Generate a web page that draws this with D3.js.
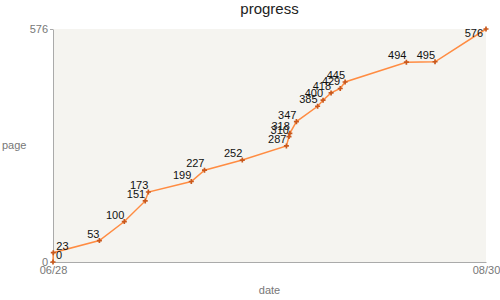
<!DOCTYPE html>
<html>
<head>
<meta charset="utf-8">
<script src="https://cdn.jsdelivr.net/npm/d3@7"></script>
<style>
  body { margin: 0; background: #fff; }
  svg { font-family: "Liberation Sans", Arial, sans-serif; }
  .axis path, .axis line { stroke: #aaa; }
  .axis text { fill: #777; font-size: 11px; }
</style>
</head>
<body>
<div id="chart"></div>
<script>
// reading log: when, and how far
const dates = ["2013-06-28 00:00", "2013-06-28 01:00", "2013-07-04 18:00", "2013-07-08 09:00",
    "2013-07-11 10:00", "2013-07-11 21:00", "2013-07-18 03:00", "2013-07-20 01:00",
    "2013-07-25 13:00", "2013-07-31 23:00", "2013-08-01 08:00", "2013-08-01 11:00",
    "2013-08-02 10:00", "2013-08-05 12:00", "2013-08-06 07:00", "2013-08-07 11:00",
    "2013-08-08 19:00", "2013-08-09 12:00", "2013-08-18 10:00", "2013-08-22 14:00",
    "2013-08-30 00:00"];
const pages = [0, 23, 53, 100, 151, 173, 199, 227, 252, 287, 310, 318, 347, 385, 400, 418, 429, 445, 494, 495, 576];
const xTicks = ["2013-06-28 00:00", "2013-08-30 00:00"];
const yTicks = [0, 576];

const width = 500, height = 300;
const margin = {top: 29, right: 14, bottom: 38, left: 53};

const parse = d3.timeParse("%Y-%m-%d %H:%M");
const data = dates.map((d, i) => ({date: parse(d), page: pages[i]}));

const svg = d3.select("#chart").append("svg")
    .attr("width", width)
    .attr("height", height);

const x = d3.scaleTime()
    .domain([parse(xTicks[0]), parse(xTicks[1])])
    .range([margin.left, width - margin.right]);

const y = d3.scaleLinear()
    .domain([0, 576])
    .range([height - margin.bottom, margin.top]);

// plot background
svg.append("rect")
    .attr("x", margin.left)
    .attr("y", margin.top)
    .attr("width", width - margin.left - margin.right)
    .attr("height", height - margin.top - margin.bottom)
    .attr("fill", "#f5f4f0");

svg.append("text")
    .attr("x", (margin.left + width - margin.right) / 2)
    .attr("y", 14)
    .attr("text-anchor", "middle")
    .attr("fill", "#222")
    .attr("font-size", 15)
    .text("progress");

// axes
let xAxis = svg.append("g")
    .attr("class", "axis")
    .attr("transform", "translate(0," + (height - margin.bottom) + ")")
    .call(d3.axisBottom(x)
        .tickValues(xTicks.map(parse))
        .tickFormat(d3.timeFormat("%m/%d"))
        .tickSize(0)
        .tickSizeOuter(0)
        .tickPadding(4));

let yAxis = svg.append("g")
    .attr("class", "axis")
    .attr("transform", "translate(" + margin.left + ",0)")
    .call(d3.axisLeft(y)
        .tickValues(yTicks)
        .tickSize(3)
        .tickSizeOuter(0)
        .tickPadding(2));

svg.append("text")
    .attr("x", 2)
    .attr("y", 149)
    .attr("fill", "#777")
    .attr("font-size", 11)
    .text("page");

svg.append("text")
    .attr("x", (margin.left + width - margin.right) / 2)
    .attr("y", 294)
    .attr("text-anchor", "middle")
    .attr("fill", "#777")
    .attr("font-size", 11)
    .text("date");

// the line
const line = d3.line()
    .x(d => x(d.date))
    .y(d => y(d.page));

svg.append("path")
    .datum(data)
    .attr("d", line)
    .attr("fill", "none")
    .attr("stroke", "#ff8c42")
    .attr("stroke-width", 1.5);

svg.selectAll(".dot")
    .data(data)
    .enter().append("path")
    .attr("class", "dot")
    .attr("d", d3.symbol().type(d3.symbolCross).size(14))
    .attr("transform", d => "translate(" + x(d.date) + "," + y(d.page) + ")")
    .attr("fill", "#c9581c");

// value labels, kept inside the plot area
let right = width - margin.right;
svg.selectAll(".lbl")
    .data(data)
    .enter().append("text")
    .attr("class", "lbl")
    .attr("font-size", 11)
    .attr("fill", "#111")
    .attr("x", d => {
        let px = x(d.date);
        if (px - 28 < margin.left) return px + 3;
        return Math.min(px, right - 3);
    })
    .attr("y", d => Math.max(y(d.page) - 3, margin.top + 8))
    .attr("text-anchor", d => x(d.date) - 28 < margin.left ? "start" : "end")
    .text(d => d.page);
</script>
</body>
</html>
